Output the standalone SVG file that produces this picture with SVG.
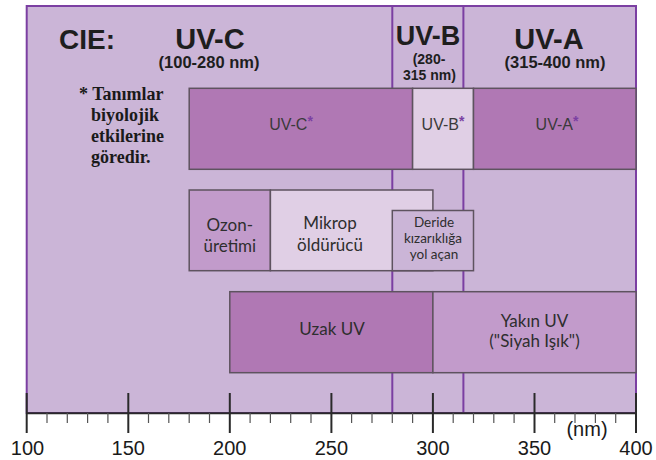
<svg xmlns="http://www.w3.org/2000/svg" width="656" height="460" viewBox="0 0 656 460">
<style>
.box{stroke:#5e535f;stroke-width:1.5}
.dark{fill:#b078b4}
.med{fill:#c29bcb}
.light{fill:#e0cfe5}
.bg{fill:#cbb5d7}
.pl{stroke:#7b3fa2;stroke-width:2;fill:none}
.hd{font-family:"Liberation Sans",Arial,sans-serif;font-weight:bold;fill:#1e1e1e}
.bt{font-family:"Liberation Sans",Arial,sans-serif;font-size:16px;fill:#3a3a3a;text-anchor:middle}
.ct{font-family:Lato,"Open Sans",sans-serif;fill:#2e2e2e;text-anchor:middle}
.nt{font-family:"Liberation Serif","Times New Roman",serif;font-weight:bold;font-size:18px;fill:#1a1a1a}
.ax{font-family:"Liberation Sans",Arial,sans-serif;font-size:20px;fill:#1a1a1a;text-anchor:middle}
.st{fill:#7b3fa2;font-weight:bold}
.maj{stroke:#2a2a2a;stroke-width:2}
.min{stroke:#555;stroke-width:1.2}
</style>
<rect width="656" height="460" fill="#ffffff"/>
<g id="background">
<rect x="26.7" y="6" width="609.3" height="407" class="bg" stroke="#7b3fa2" stroke-width="2"/>
</g>
<g id="connectors">
<line x1="392.3" y1="6" x2="392.3" y2="413" class="pl"/>
<line x1="463.4" y1="6" x2="463.4" y2="413" class="pl"/>
</g>
<g id="header">
<text x="59" y="49" class="hd" font-size="28">CIE:</text>
<text x="210" y="49" class="hd" font-size="29" text-anchor="middle">UV-C</text>
<text x="209" y="68" class="hd" font-size="16.5" text-anchor="middle">(100-280 nm)</text>
<text x="428" y="45" class="hd" font-size="27" text-anchor="middle">UV-B</text>
<text x="429" y="64" class="hd" font-size="14" text-anchor="middle">(280-</text>
<text x="429.5" y="80" class="hd" font-size="14" text-anchor="middle">315 nm)</text>
<text x="549" y="49" class="hd" font-size="29" text-anchor="middle">UV-A</text>
<text x="555" y="68" class="hd" font-size="16.5" text-anchor="middle">(315-400 nm)</text>
</g>
<g id="note">
<text x="79" y="100" class="nt">* Tanımlar</text>
<text x="91" y="121" class="nt">biyolojik</text>
<text x="91" y="142" class="nt">etkilerine</text>
<text x="91" y="163" class="nt">göredir.</text>
</g>
<g id="uvc-bio">
<rect x="189.2" y="88.3" width="223.4" height="81" class="box dark"/>
<text x="291" y="130" class="bt">UV-C<tspan class="st" font-size="14" dy="-4">*</tspan></text>
</g>
<g id="uvb-bio">
<rect x="412.6" y="88.3" width="60.9" height="81" class="box light"/>
<text x="443" y="130" class="bt">UV-B<tspan class="st" font-size="14" dy="-4">*</tspan></text>
</g>
<g id="uva-bio">
<rect x="473.5" y="88.3" width="162.5" height="81" class="box dark"/>
<text x="557" y="130" class="bt">UV-A<tspan class="st" font-size="14" dy="-4">*</tspan></text>
</g>
<g id="ozon">
<rect x="189.2" y="190" width="81.2" height="80.7" class="box med"/>
<text x="229.8" y="231" class="ct" font-size="17">Ozon-</text>
<text x="229.8" y="252" class="ct" font-size="17">üretimi</text>
</g>
<g id="mikrop">
<rect x="270.4" y="190" width="162.5" height="80.7" class="box light"/>
<text x="330" y="229" class="ct" font-size="17">Mikrop</text>
<text x="330" y="251" class="ct" font-size="17">öldürücü</text>
</g>
<g id="deride">
<rect x="392.3" y="210.5" width="81.2" height="60.2" class="box bg"/>
<text x="434" y="227" class="ct" font-size="13.5">Deride</text>
<text x="433" y="243" class="ct" font-size="13.5">kızarıklığa</text>
<text x="434" y="259" class="ct" font-size="13.5">yol açan</text>
</g>
<g id="uzak">
<rect x="229.8" y="291.7" width="203.1" height="81" class="box dark"/>
<text x="332" y="335" class="ct" font-size="17">Uzak UV</text>
</g>
<g id="yakin">
<rect x="432.9" y="291.7" width="203.1" height="81" class="box med"/>
<text x="534.5" y="327" class="ct" font-size="17">Yakın UV</text>
<text x="534.5" y="347" class="ct" font-size="17">("Siyah Işık")</text>
</g>
<g id="axis">
<line x1="26.7" y1="413.3" x2="636" y2="413.3" stroke="#2a2a2a" stroke-width="2"/>
<g class="min">
<line x1="47" y1="413" x2="47" y2="423"/><line x1="67.3" y1="413" x2="67.3" y2="423"/><line x1="87.6" y1="413" x2="87.6" y2="423"/><line x1="107.9" y1="413" x2="107.9" y2="423"/>
<line x1="148.5" y1="413" x2="148.5" y2="423"/><line x1="168.8" y1="413" x2="168.8" y2="423"/><line x1="189.2" y1="413" x2="189.2" y2="423"/><line x1="209.5" y1="413" x2="209.5" y2="423"/>
<line x1="250.1" y1="413" x2="250.1" y2="423"/><line x1="270.4" y1="413" x2="270.4" y2="423"/><line x1="290.7" y1="413" x2="290.7" y2="423"/><line x1="311" y1="413" x2="311" y2="423"/>
<line x1="351.6" y1="413" x2="351.6" y2="423"/><line x1="372" y1="413" x2="372" y2="423"/><line x1="392.3" y1="413" x2="392.3" y2="423"/><line x1="412.6" y1="413" x2="412.6" y2="423"/>
<line x1="453.2" y1="413" x2="453.2" y2="423"/><line x1="473.5" y1="413" x2="473.5" y2="423"/><line x1="493.8" y1="413" x2="493.8" y2="423"/><line x1="514.1" y1="413" x2="514.1" y2="423"/>
<line x1="554.7" y1="413" x2="554.7" y2="423"/><line x1="575" y1="413" x2="575" y2="423"/><line x1="595.4" y1="413" x2="595.4" y2="423"/><line x1="615.7" y1="413" x2="615.7" y2="423"/>
</g>
<g class="maj">
<line x1="26.7" y1="393" x2="26.7" y2="433"/><line x1="128.3" y1="393" x2="128.3" y2="433"/><line x1="229.8" y1="393" x2="229.8" y2="433"/>
<line x1="331.4" y1="393" x2="331.4" y2="433"/><line x1="432.9" y1="393" x2="432.9" y2="433"/><line x1="534.5" y1="393" x2="534.5" y2="433"/><line x1="636" y1="393" x2="636" y2="433"/>
</g>
<text x="27.5" y="455" class="ax">100</text>
<text x="128.3" y="455" class="ax">150</text>
<text x="229.8" y="455" class="ax">200</text>
<text x="331.4" y="455" class="ax">250</text>
<text x="432.9" y="455" class="ax">300</text>
<text x="534.5" y="455" class="ax">350</text>
<text x="636" y="455" class="ax">400</text>
<text x="587" y="436" class="ax">(nm)</text>
</g>
</svg>
